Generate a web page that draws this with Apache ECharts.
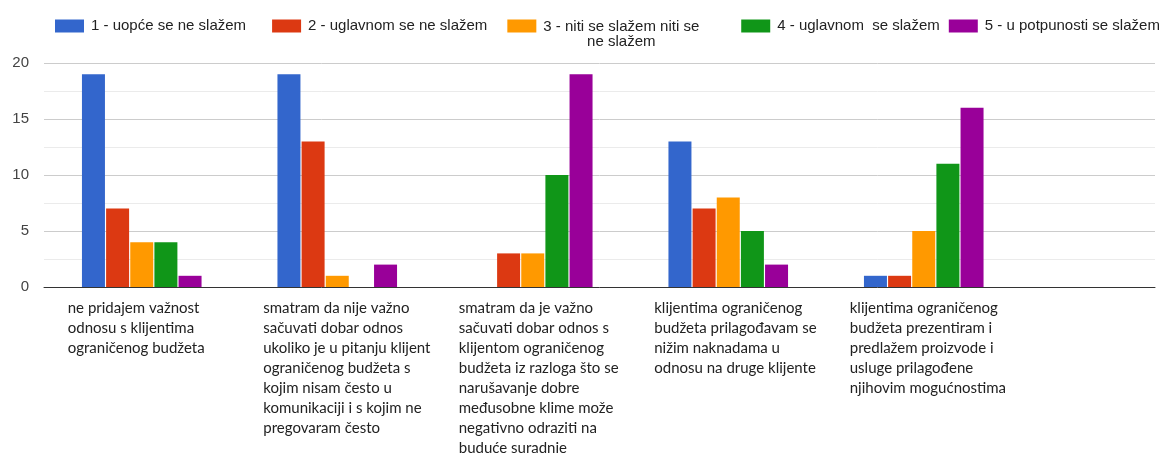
<!DOCTYPE html>
<html><head><meta charset="utf-8">
<script src="https://cdn.jsdelivr.net/npm/echarts@6/dist/echarts.min.js"></script>
<style>html,body{margin:0;padding:0;background:#fff}#c{width:1163px;height:453px}</style>
</head><body><div id="c"></div>
<script>
const categories = [
  'ne pridajem važnost\nodnosu s klijentima\nograničenog budžeta',
  'smatram da nije važno\nsačuvati dobar odnos\nukoliko je u pitanju klijent\nograničenog budžeta s\nkojim nisam često u\nkomunikaciji i s kojim ne\npregovaram često',
  'smatram da je važno\nsačuvati dobar odnos s\nklijentom ograničenog\nbudžeta iz razloga što se\nnarušavanje dobre\nmeđusobne klime može\nnegativno odraziti na\nbuduće suradnje',
  'klijentima ograničenog\nbudžeta prilagođavam se\nnižim naknadama u\nodnosu na druge klijente',
  'klijentima ograničenog\nbudžeta prezentiram i\npredlažem proizvode i\nusluge prilagođene\nnjihovim mogućnostima'
];
const seriesNames = [
  '1 - uopće se ne slažem',
  '2 - uglavnom se ne slažem',
  '3 - niti se slažem niti se\nne slažem',
  '4 - uglavnom  se slažem',
  '5 - u potpunosti se slažem'
];
const values1 = [19, 19, 0, 13, 1];
const values2 = [7, 13, 3, 7, 1];
const values3 = [4, 1, 3, 8, 5];
const values4 = [4, 0, 10, 5, 11];
const values5 = [1, 2, 19, 2, 16];
const yMin = 0, yMax = 20, yStep = 5;
const colors = ['#3366cc', '#dc3912', '#ff9900', '#109618', '#990099'];

const allValues = [values1, values2, values3, values4, values5];
const legendPadRight = [17, 11, 33, 0, 0];

const chart = echarts.init(document.getElementById('c'), null, {renderer: 'canvas'});
const LEG_FONT = '"Liberation Sans", Arial, sans-serif';
const rich = {
  a: {fontSize: 15, color: '#222', fontFamily: LEG_FONT, lineHeight: 16},
  a2: {fontSize: 15, color: '#222', fontFamily: LEG_FONT, lineHeight: 32, verticalAlign: 'bottom'},
  b: {fontSize: 15, color: '#222', fontFamily: LEG_FONT, lineHeight: 16, align: 'center'},
  g: {width: 2, fontSize: 15, fontFamily: LEG_FONT, lineHeight: 16, align: 'left'}
};
legendPadRight.forEach(function (w, i) {
  rich['p' + i] = {width: w, fontSize: 15, fontFamily: LEG_FONT, lineHeight: 16, align: 'right'};
});
const option = {
  animation: false,
  color: colors,
  legend: {
    left: 55, top: 10.5, padding: 0,
    itemWidth: 29, itemHeight: 13, itemGap: 9,
    icon: 'rect',
    textStyle: {fontSize: 15, color: '#222', fontFamily: LEG_FONT, rich: rich},
    formatter: function (name) {
      const i = seriesNames.indexOf(name);
      const pad = legendPadRight[i] > 0 ? '{p' + i + '| }' : '';
      if (name.indexOf('\n') >= 0) {
        const p = name.split('\n');
        return '{g| }{a2|' + p[0] + '}' + pad + '\n{g| }{b|' + p[1] + '}' + pad;
      }
      return '{g| }{a|' + name + '}' + pad;
    },
    data: seriesNames
  },
  grid: [
    {left: 44, right: 141.5, top: 63, bottom: 166, outerBoundsMode: 'none', containLabel: false},
    {left: 44, right: 8, top: 63, bottom: 166, outerBoundsMode: 'none', containLabel: false}
  ],
  xAxis: [
    {gridIndex: 0, type: 'category', data: categories,
     axisLine: {show: false}, axisTick: {show: false},
     axisLabel: {interval: 0, align: 'left', verticalAlign: 'top', padding: [0, 0, 0, -74],
       margin: 11, lineHeight: 20, fontSize: 15, fontFamily: 'Lato, "Open Sans", sans-serif', color: '#222'}},
    {gridIndex: 1, type: 'value', min: 0, max: 1, z: 5,
     axisLine: {show: true, lineStyle: {color: '#333', width: 1}},
     axisTick: {show: false}, axisLabel: {show: false}, splitLine: {show: false}}
  ],
  yAxis: [
    {gridIndex: 0, type: 'value', min: yMin, max: yMax, interval: yStep, show: false, splitLine: {show: false}},
    {gridIndex: 1, type: 'value', min: yMin, max: yMax, interval: yStep,
     axisLine: {show: false}, axisTick: {show: false},
     axisLabel: {margin: 15, fontSize: 15, color: '#444', fontFamily: LEG_FONT},
     splitLine: {lineStyle: {color: '#cccccc', width: 1}},
     minorTick: {show: false, splitNumber: 2},
     minorSplitLine: {show: true, lineStyle: {color: '#ebebeb', width: 1}}}
  ],
  series: allValues.map(function (vals, i) {
    return {
      name: seriesNames[i], type: 'bar', xAxisIndex: 0, yAxisIndex: 0,
      data: vals, barWidth: 23, barGap: '5%',
      itemStyle: {color: colors[i]}
    };
  })
};
chart.setOption(option);
</script>
</body></html>
